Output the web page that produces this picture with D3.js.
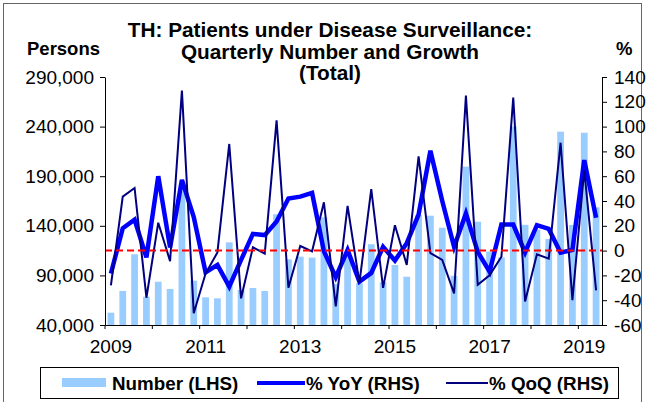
<!DOCTYPE html>
<meta charset="utf-8">
<script src="https://d3js.org/d3.v7.min.js"></script>
<style>
  body { margin: 0; background: #fff; }
  text { font-family: Arial, "Liberation Sans", sans-serif; fill: #000; }
</style>
<div id="chart"></div>
<script>

// quarters 2009Q1 .. 2019Q2
var quarters = ["2009Q1","2009Q2","2009Q3","2009Q4","2010Q1","2010Q2","2010Q3","2010Q4",
  "2011Q1","2011Q2","2011Q3","2011Q4","2012Q1","2012Q2","2012Q3","2012Q4",
  "2013Q1","2013Q2","2013Q3","2013Q4","2014Q1","2014Q2","2014Q3","2014Q4",
  "2015Q1","2015Q2","2015Q3","2015Q4","2016Q1","2016Q2","2016Q3","2016Q4",
  "2017Q1","2017Q2","2017Q3","2017Q4","2018Q1","2018Q2","2018Q3","2018Q4",
  "2019Q1","2019Q2"];

// patients (persons), LHS
var number = [52400, 74300, 111300, 68500, 83600, 76300, 175000, 84700,
  67900, 66900, 123300, 75300, 77300, 74300, 151600, 106200,
  108900, 107900, 148500, 81500, 110000, 82000, 121400, 83000,
  100500, 88700, 150800, 150200, 138100, 89600, 199600, 144100,
  114100, 108100, 240000, 141000, 136200, 126700, 234900, 140800,
  233800, 158600];

// % YoY, RHS
var yoy = [-18.5, 18, 25, -5.5, 60, 2.5, 57, 27,
  -17.5, -11.5, -29, -7.5, 13.5, 12.5, 23.5, 42,
  43.5, 46.5, -0.5, -21.5, 0.5, -25, -18, 3,
  -8, 6, 29, 80.5, 40, 3, 30, -1,
  -17, 21, 21, -1.5, 20.5, 17.5, -1.7, 0.5,
  73, 26.5];

// % QoQ, RHS
var qoq = [-28, 43.5, 50.5, -38, 22.5, -8.5, 129, -50.5,
  -18.5, -1.5, 86, -38.5, 2.7, -2.5, 105, -30,
  3.7, -0.6, 39, -45, 36, -26, 49.5, -30,
  20.5, -11.5, 76, -2, -7.5, -34.5, 125, -27.5,
  -20, -5, 123.5, -41, -3, -6.5, 87, -40,
  65, -32];

var yearLabels = ["2009", "2011", "2013", "2015", "2017", "2019"];
var leftTicks = [40000, 90000, 140000, 190000, 240000, 290000];
var rightTicks = [-60, -40, -20, 0, 20, 40, 60, 80, 100, 120, 140];

var W = 646, H = 402;
var plot = {left: 105, right: 602, top: 77, bottom: 325};

var svg = d3.select("#chart").append("svg")
    .attr("width", W)
    .attr("height", H);

svg.append("rect")
    .attr("x", 3.5).attr("y", 3.5)
    .attr("width", 638).attr("height", 410)
    .attr("fill", "#fff")
    .attr("stroke", "#666");

var x = d3.scaleBand()
    .domain(quarters)
    .range([plot.left, plot.right])
    .paddingInner(0.43)
    .paddingOuter(0.215);

var yL = d3.scaleLinear().domain([40000, 290000]).range([plot.bottom, plot.top]);
var yR = d3.scaleLinear().domain([-60, 140]).range([plot.bottom, plot.top]);

function cx(q) { return x(q) + x.bandwidth() / 2; }

// bars
svg.append("g").selectAll("rect")
  .data(quarters)
  .enter().append("rect")
    .attr("x", function(d) { return x(d); })
    .attr("width", x.bandwidth())
    .attr("y", function(d, i) { return yL(number[i]); })
    .attr("height", function(d, i) { return plot.bottom - yL(number[i]); })
    .attr("fill", "#99ccff");

// lines
var pctLine = d3.line()
    .x(function(d, i) { return cx(quarters[i]); })
    .y(function(d) { return yR(d); });

svg.append("path")
    .datum(yoy)
    .attr("fill", "none")
    .attr("stroke", "#0000ff")
    .attr("stroke-width", 4.5)
    .attr("d", pctLine);

svg.append("path")
    .datum(qoq)
    .attr("fill", "none")
    .attr("stroke", "#000080")
    .attr("stroke-width", 2)
    .attr("d", pctLine);

// zero line on the RHS scale
svg.append("line")
    .attr("x1", plot.left).attr("x2", plot.right)
    .attr("y1", yR(0)).attr("y2", yR(0))
    .attr("stroke", "#ff0000")
    .attr("stroke-width", 2)
    .attr("stroke-dasharray", "7,4");

// axes
var gx = svg.append("g")
    .attr("transform", "translate(0," + plot.bottom + ")")
    .call(d3.axisBottom(x)
      .tickValues(quarters.filter(function(q) { return q.slice(4) == "Q1"; }))
      .tickSize(4).tickSizeOuter(0).tickFormat(""));
gx.selectAll(".tick line").attr("transform", "translate(" + (-x.step() / 2) + ",0)");

svg.append("g").selectAll("text")
  .data(yearLabels)
  .enter().append("text")
    .attr("x", function(d) { return cx(d + "Q1"); })
    .attr("y", 353)
    .attr("text-anchor", "middle")
    .style("font-size", "19px")
    .text(function(d) { return d; });

svg.append("g")
    .attr("transform", "translate(" + plot.left + ",0)")
    .call(d3.axisLeft(yL).tickValues(leftTicks).tickSize(5).tickSizeOuter(0)
      .tickPadding(6).tickFormat(d3.format(",")));

svg.append("g")
    .attr("transform", "translate(" + plot.right + ",0)")
    .call(d3.axisRight(yR).tickValues(rightTicks).tickSize(5).tickSizeOuter(0)
      .tickPadding(7).tickFormat(function(d) { return String(d); }));

svg.selectAll(".domain, .tick line").attr("stroke", "#000");
svg.selectAll(".tick text").style("font-size", "19px").attr("fill", "#000");

// titles
var title = ["TH: Patients under Disease Surveillance:", "Quarterly Number and Growth", "(Total)"];
svg.append("g").selectAll("text")
  .data(title)
  .enter().append("text")
    .attr("x", 330)
    .attr("y", function(d, i) { return 37 + i * 21.5; })
    .attr("text-anchor", "middle")
    .style("font-size", "20.8px")
    .style("font-weight", "bold")
    .text(function(d) { return d; });

svg.append("text").attr("x", 27).attr("y", 55)
    .style("font-size", "18.5px").style("font-weight", "bold").text("Persons");
svg.append("text").attr("x", 616).attr("y", 55)
    .style("font-size", "18.5px").style("font-weight", "bold").text("%");

// legend
var lg = svg.append("g");
lg.append("rect")
    .attr("x", 40.5).attr("y", 367.5).attr("width", 578).attr("height", 31)
    .attr("fill", "#fff").attr("stroke", "#000");
lg.append("rect").attr("x", 62).attr("y", 378).attr("width", 44).attr("height", 9).attr("fill", "#99ccff");
lg.append("line").attr("x1", 257).attr("x2", 305).attr("y1", 383).attr("y2", 383)
    .attr("stroke", "#0000ff").attr("stroke-width", 4);
lg.append("line").attr("x1", 446).attr("x2", 488).attr("y1", 383).attr("y2", 383)
    .attr("stroke", "#000080").attr("stroke-width", 2);
var legendText = [["Number (LHS)", 112], ["% YoY (RHS)", 306], ["% QoQ (RHS)", 489]];
lg.selectAll("text.lt")
  .data(legendText)
  .enter().append("text")
    .attr("class", "lt")
    .attr("x", function(d) { return d[1]; })
    .attr("y", 389.5)
    .style("font-size", "18.8px")
    .style("font-weight", "bold")
    .text(function(d) { return d[0]; });

</script>
